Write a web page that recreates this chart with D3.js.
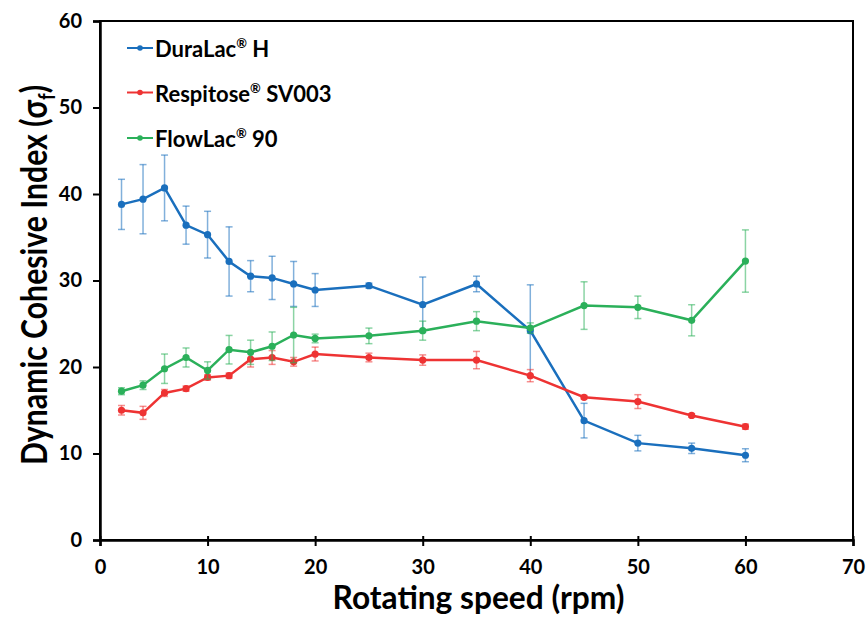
<!DOCTYPE html>
<html><head><meta charset="utf-8">
<script src="https://cdn.jsdelivr.net/npm/d3@7"></script>
<style>body{margin:0;background:#fff;} text{font-family:Lato, "Open Sans", sans-serif;font-weight:bold;}</style>
</head><body><svg id="c" width="868" height="619"></svg>
<script>
const speeds = [2,4,6,8,10,12,14,16,18,20,25,30,35,40,45,50,55,60];
const duraLac = [38.8,39.4,40.7,36.4,35.3,32.2,30.5,30.3,29.6,28.9,29.4,27.2,29.6,24.2,13.8,11.2,10.6,9.8];
const duraLacErr = [2.9,4.0,3.8,2.2,2.7,4.0,1.8,2.5,2.6,1.9,0.3,3.2,0.9,5.3,2.0,0.9,0.6,0.75];
const respitose = [15.0,14.7,17.0,17.5,18.8,19.0,20.9,21.1,20.6,21.5,21.1,20.8,20.8,19.0,16.5,16.0,14.4,13.1];
const respitoseErr = [0.55,0.75,0.4,0.3,0.3,0.3,0.9,0.8,0.5,0.8,0.5,0.6,1.0,0.7,0.2,0.8,0.2,0.3];
const flowLac = [17.2,17.9,19.8,21.1,19.6,22.0,21.7,22.4,23.7,23.3,23.6,24.2,25.3,24.5,27.1,26.9,25.4,32.25];
const flowLacErr = [0.4,0.5,1.7,1.1,1.0,1.65,1.4,1.65,3.2,0.5,0.9,1.1,1.1,0.6,2.75,1.3,1.8,3.6];
const seriesNames = ["DuraLac", "Respitose", "FlowLac"];
const seriesSuffix = [" H", " SV003", " 90"];
const colors = ["#1a6fbd", "#ee3333", "#2bb05a"];
const xTicks = [0,10,20,30,40,50,60,70];
const yTicks = [0,10,20,30,40,50,60];

const svg = d3.select("#c");
const L = 100, R = 853, T = 21, B = 540;
const x = d3.scaleLinear().domain([0,70]).range([L,R]);
const y = d3.scaleLinear().domain([0,60]).range([B,T]);

// frame
svg.append("rect").attr("x",L).attr("y",T).attr("width",R-L).attr("height",B-T)
  .attr("fill","none").attr("stroke","#000").attr("stroke-width",2);

const xa = svg.append("g").attr("transform",`translate(0,${B})`)
  .call(d3.axisBottom(x).tickValues(xTicks).tickSize(6).tickPadding(14));
xa.select(".domain").attr("stroke-width",2.5);
xa.selectAll(".tick line").attr("stroke-width",2).attr("y1",-4);
xa.selectAll(".tick text").attr("font-size",20).attr("fill","#000").style("font-family","Lato").style("font-weight","bold");

const ya = svg.append("g").attr("transform",`translate(${L},0)`)
  .call(d3.axisLeft(y).tickValues(yTicks).tickSize(7).tickPadding(11));
ya.select(".domain").attr("stroke-width",2.5);
ya.selectAll(".tick line").attr("stroke-width",2);
ya.selectAll(".tick text").attr("font-size",20).attr("fill","#000").style("font-family","Lato").style("font-weight","bold");

const allVals = [duraLac, respitose, flowLac];
const allErr = [duraLacErr, respitoseErr, flowLacErr];
const line = d3.line().x(d=>x(d[0])).y(d=>y(d[1]));

allVals.forEach((vals,i)=>{
  const g = svg.append("g");
  const pts = speeds.map((s,j)=>[s, vals[j], allErr[i][j]]);
  const eb = g.append("g").attr("stroke",colors[i]).attr("stroke-opacity",0.55).attr("stroke-width",1.5);
  pts.forEach(p=>{
    const x0 = x(p[0]), y1 = y(p[1]+p[2]), y2 = y(p[1]-p[2]);
    eb.append("line").attr("x1",x0).attr("x2",x0).attr("y1",y1).attr("y2",y2);
    eb.append("line").attr("x1",x0-3.5).attr("x2",x0+3.5).attr("y1",y1).attr("y2",y1);
    eb.append("line").attr("x1",x0-3.5).attr("x2",x0+3.5).attr("y1",y2).attr("y2",y2);
  });
  g.append("path").datum(pts).attr("d",line).attr("fill","none").attr("stroke",colors[i]).attr("stroke-width",2.5);
  g.selectAll("circle").data(pts).join("circle").attr("cx",d=>x(d[0])).attr("cy",d=>y(d[1])).attr("r",3.6).attr("fill",colors[i]);
});

// legend
const legendY = [48, 92.5, 138];
seriesNames.forEach((n,i)=>{
  const ly = legendY[i];
  svg.append("line").attr("x1",127).attr("x2",153).attr("y1",ly).attr("y2",ly).attr("stroke",colors[i]).attr("stroke-width",2);
  svg.append("circle").attr("cx",140).attr("cy",ly).attr("r",2.8).attr("fill",colors[i]);
  const t = svg.append("text").attr("x",155).attr("y",ly+9).attr("font-size",22).attr("fill","#000");
  t.append("tspan").text(n);
  t.append("tspan").attr("font-size",13).attr("dy",-9).text("®");
  t.append("tspan").attr("dy",9).text(seriesSuffix[i]);
});

// axis titles
svg.append("text").attr("transform",`translate(${(329+628)/2},609) scale(0.96,1)`).attr("text-anchor","middle").attr("font-size",33).attr("fill","#000").text("Rotating speed (rpm)");
const yt = svg.append("text").attr("transform","translate(47,275) rotate(-90) scale(0.84,1)").attr("text-anchor","middle").attr("font-size",36).attr("fill","#000");
yt.append("tspan").text("Dynamic Cohesive Index (σ");
yt.append("tspan").attr("font-size",22).attr("dy",8).text("f");
yt.append("tspan").attr("dy",-8).text(")");
</script></body></html>
